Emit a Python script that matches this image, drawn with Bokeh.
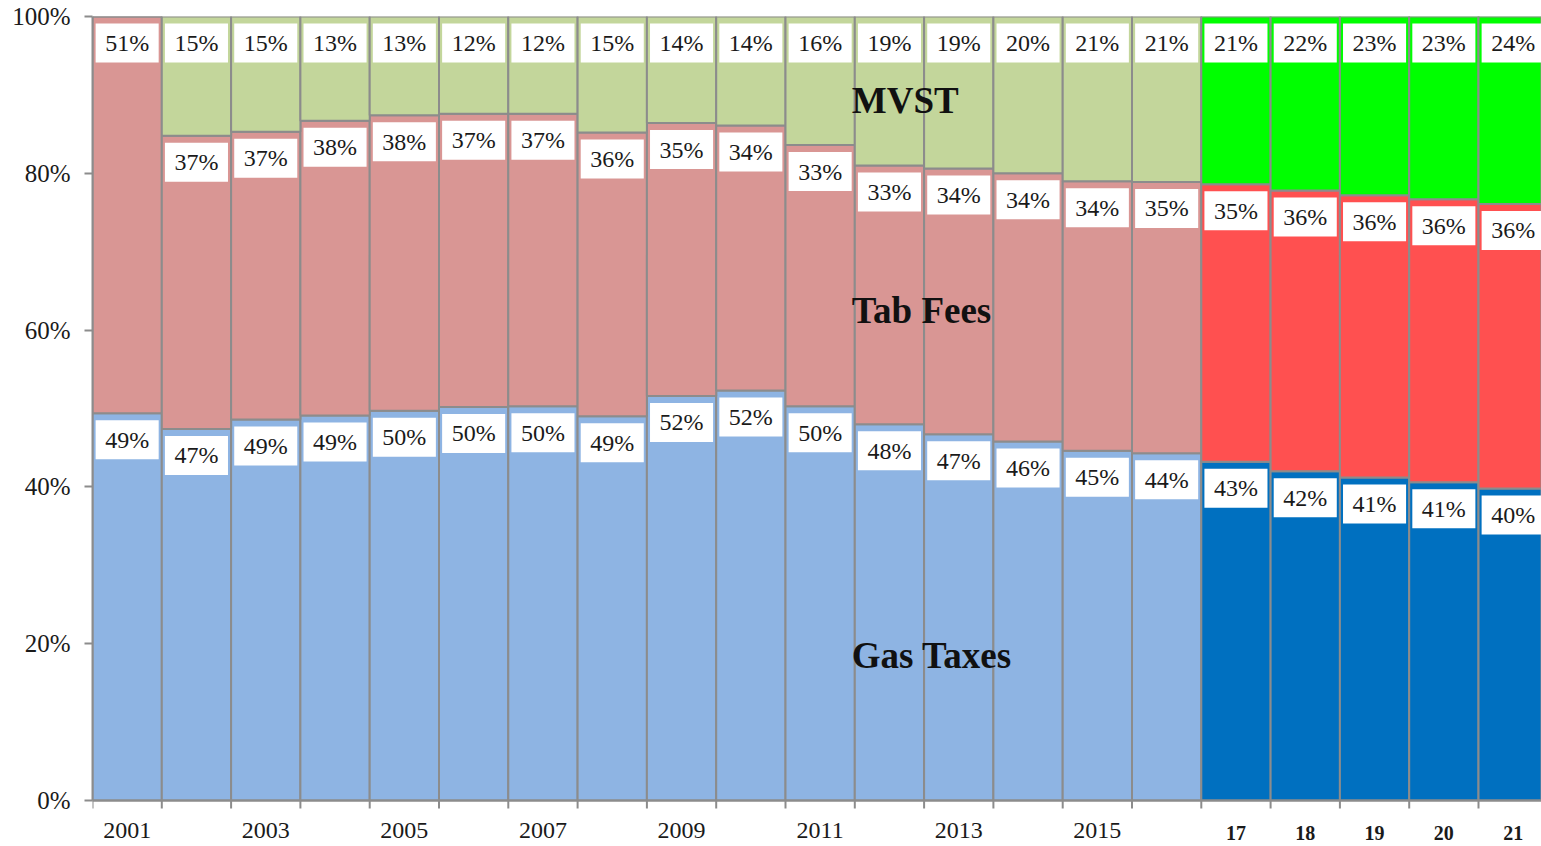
from bokeh.plotting import figure
from bokeh.models import (ColumnDataSource, Range1d, LinearAxis, FixedTicker,
                          PrintfTickFormatter, Label)
from bokeh.embed import file_html
from bokeh.resources import INLINE
from bokeh.core.properties import value

# ---------------- data (shares of revenue, %) ----------------
categories = ["2001", "2002", "2003", "2004", "2005", "2006", "2007", "2008",
              "2009", "2010", "2011", "2012", "2013", "2014", "2015", "2016",
              "17", "18", "19", "20", "21"]
gas_taxes = [49.4, 47.4, 48.6, 49.1, 49.7, 50.2, 50.3, 49.0, 51.6, 52.3, 50.3,
             48.0, 46.7, 45.8, 44.6, 44.3, 43.2, 42.0, 41.2, 40.6, 39.8]
tab_fees = [50.6, 37.4, 36.7, 37.6, 37.7, 37.4, 37.3, 36.2, 34.8, 33.8, 33.3,
            33.0, 33.9, 34.2, 34.4, 34.6, 35.4, 35.8, 36.0, 36.1, 36.3]
mvst = [0.0, 15.2, 14.7, 13.3, 12.6, 12.4, 12.4, 14.8, 13.6, 13.9, 16.4,
        19.0, 19.4, 20.0, 21.0, 21.1, 21.4, 22.2, 22.8, 23.3, 23.9]
projection_labels = ["17", "18", "19", "20", "21"]
year_tick_labels = ["2001", "2003", "2005", "2007", "2009", "2011", "2013", "2015"]
y_ticks = [0, 20, 40, 60, 80, 100]

# ---------------- styles ----------------
SERIF = "Liberation Serif"
hist_colors = {"gas": "#8EB4E3", "tab": "#D99694", "mvst": "#C3D69B"}
proj_colors = {"gas": "#0070C0", "tab": "#FF5050", "mvst": "#00FF00"}
OUTLINE = "#8C8C8C"
TEXT = "#1a1a1a"

W, H = 1541, 846
LEFT, TOP = 92, 16
PX_PER_UNIT = 7.84            # pixels per percentage point
BAR_PX = 69.3                 # pixels per category
frame_h = H - TOP
frame_w = W - LEFT

n = len(categories)
xs = [i + 0.5 for i in range(n)]
is_proj = [c in projection_labels for c in categories]

p = figure(width=W, height=H,
           x_range=Range1d(0, frame_w / BAR_PX),
           y_range=Range1d(100 - frame_h / PX_PER_UNIT, 100),
           output_backend="svg", toolbar_location=None,
           x_axis_type=None, y_axis_type=None,
           min_border_left=LEFT, min_border_right=0,
           min_border_top=TOP, min_border_bottom=0)
p.outline_line_color = None
p.background_fill_color = "white"

# ---------------- stacked bars ----------------
series = [("gas", gas_taxes), ("tab", tab_fees), ("mvst", mvst)]
bottoms = [0.0] * n
label_x, label_y, label_t = [], [], []
for key, vals in series:
    tops = [b + v for b, v in zip(bottoms, vals)]
    colors = [proj_colors[key] if pr else hist_colors[key] for pr in is_proj]
    src = ColumnDataSource(dict(x=xs, bottom=bottoms, top=tops, color=colors))
    p.vbar(x="x", bottom="bottom", top="top", width=1.0, source=src,
           fill_color="color", line_color=OUTLINE, line_width=2)
    for x, t, v in zip(xs, tops, vals):
        if v > 0:
            label_x.append(x)
            label_y.append(t - 26.5 / PX_PER_UNIT)
            label_t.append(f"{round(v)}%")
    bottoms = tops

lab_src = ColumnDataSource(dict(x=label_x, y=label_y, text=label_t))
p.rect(x="x", y="y", width=0.91, height=39 / PX_PER_UNIT, source=lab_src,
       fill_color="white", line_color=None)
p.text(x="x", y="y", text="text", source=lab_src, text_align="center",
       text_baseline="middle", text_font=value(SERIF),
       text_font_size="24px", text_color=TEXT)

# ---------------- y axis ----------------
yaxis = LinearAxis(ticker=FixedTicker(ticks=y_ticks),
                   formatter=PrintfTickFormatter(format="%d%%"),
                   bounds=(0, 100))
yaxis.major_tick_out = 8
yaxis.major_tick_in = 0
yaxis.minor_tick_out = 0
yaxis.axis_line_color = OUTLINE
yaxis.axis_line_width = 2
yaxis.major_tick_line_color = OUTLINE
yaxis.major_tick_line_width = 2
yaxis.major_label_standoff = 14
yaxis.major_label_text_font = SERIF
yaxis.major_label_text_font_size = "25px"
yaxis.major_label_text_color = TEXT
p.add_layout(yaxis, "left")

# ---------------- x axis (drawn in the frame below 0%) ----------------
x_end = frame_w / BAR_PX
p.segment(x0=[0], y0=[0], x1=[x_end], y1=[0], line_color=OUTLINE, line_width=2)
bounds_x = list(range(n + 1))
p.segment(x0=bounds_x, y0=[0] * len(bounds_x), x1=bounds_x,
          y1=[-8 / PX_PER_UNIT] * len(bounds_x),
          line_color=OUTLINE, line_width=2)

year_src = ColumnDataSource(dict(
    x=[xs[categories.index(c)] for c in year_tick_labels],
    y=[-30 / PX_PER_UNIT] * len(year_tick_labels),
    text=year_tick_labels))
p.text(x="x", y="y", text="text", source=year_src, text_align="center",
       text_baseline="middle", text_font=value(SERIF),
       text_font_size="24px", text_color=TEXT)

proj_src = ColumnDataSource(dict(
    x=[xs[categories.index(c)] for c in projection_labels],
    y=[-32 / PX_PER_UNIT] * len(projection_labels),
    text=projection_labels))
p.text(x="x", y="y", text="text", source=proj_src, text_align="center",
       text_baseline="middle", text_font=value(SERIF),
       text_font_size="20px", text_font_style="bold", text_color=TEXT)

# ---------------- series names ----------------
for txt, yv in [("MVST", 89.3), ("Tab Fees", 62.5), ("Gas Taxes", 18.5)]:
    p.add_layout(Label(x=11, y=yv, x_offset=-3, text=txt, text_align="left",
                       text_baseline="middle", text_font=SERIF,
                       text_font_size="37px", text_font_style="bold",
                       text_color="#111111"))

open("out.html", "w").write(file_html(p, INLINE))
